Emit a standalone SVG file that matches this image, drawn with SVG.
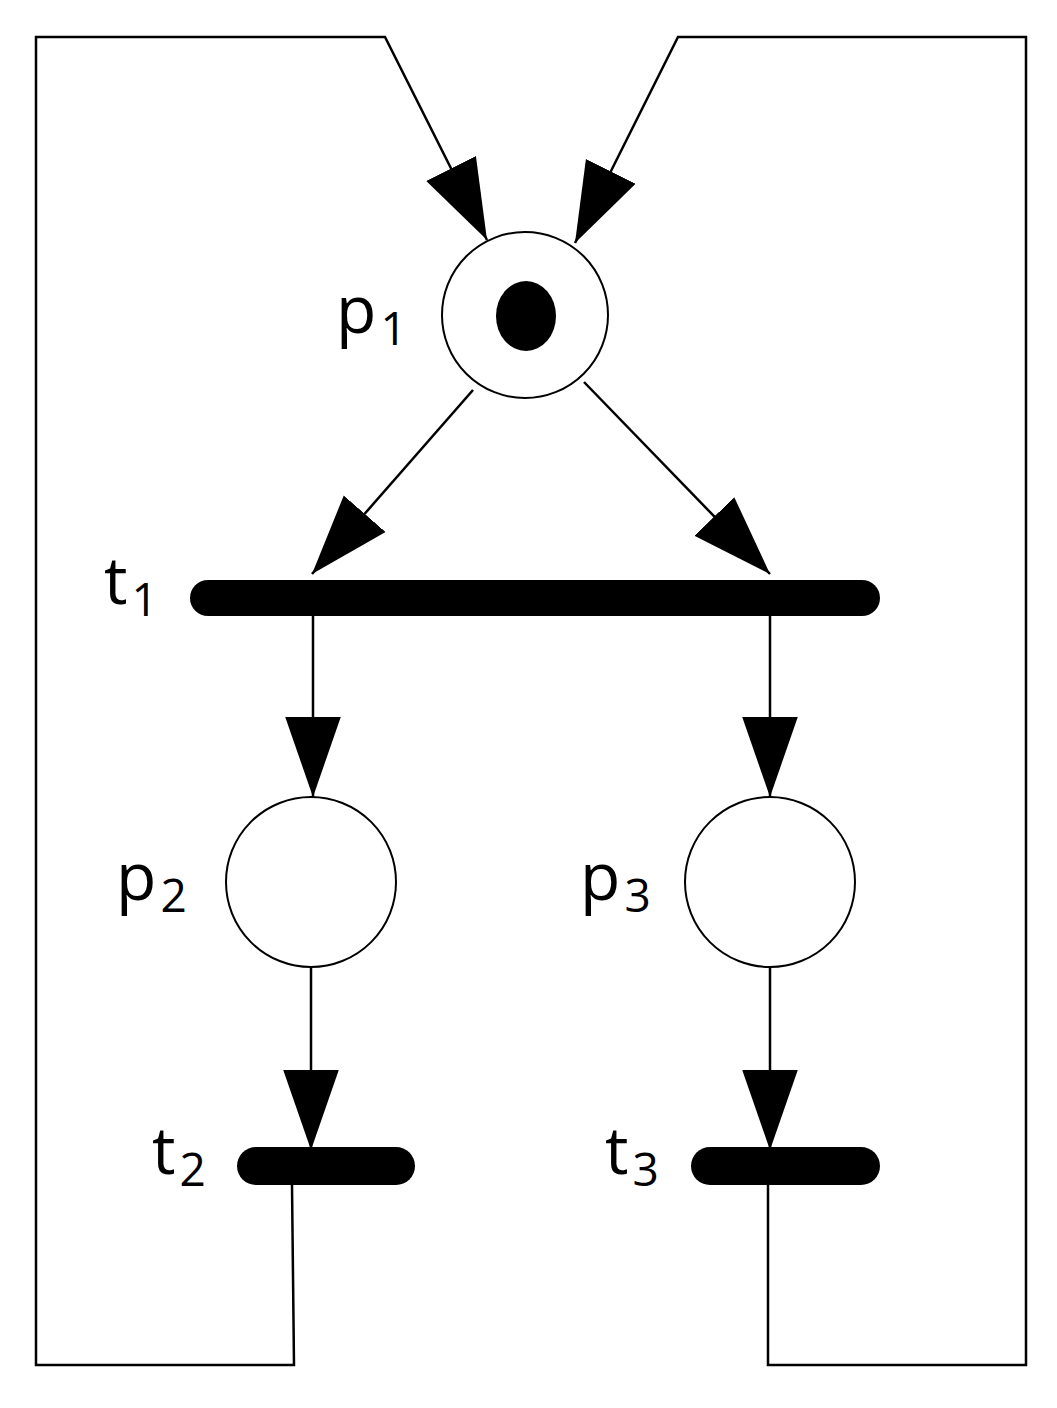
<svg xmlns="http://www.w3.org/2000/svg" width="1057" height="1408" viewBox="0 0 1057 1408">
<style>
.e{fill:none;stroke:#000;stroke-width:2.5}
.pl{fill:#fff;stroke:#000;stroke-width:2}
.bar{stroke:#000;stroke-linecap:round;fill:none}
.lb{font-family:"Open Sans","Liberation Sans",sans-serif;font-size:66px;fill:#000}
.sb{font-size:46px}
</style>
<defs>
<marker id="a" markerUnits="userSpaceOnUse" markerWidth="80" markerHeight="60" viewBox="0 0 72 50" refX="72" refY="25" orient="auto">
<path d="M0,0L72,25L0,50Z" fill="#000"/>
</marker>
</defs>
<rect width="1057" height="1408" fill="#fff"/>
<g id="connectors">
<polyline class="e" points="292,1185 294,1365 36,1365 36,37 385,37 487,240" marker-end="url(#a)"/>
<polyline class="e" points="768,1185 768,1365 1026,1365 1026,37 678,37 575,243" marker-end="url(#a)"/>
<line class="e" x1="473" y1="390" x2="312" y2="574" marker-end="url(#a)"/>
<line class="e" x1="584" y1="382" x2="770" y2="574" marker-end="url(#a)"/>
<line class="e" x1="313" y1="616" x2="313" y2="797" marker-end="url(#a)"/>
<line class="e" x1="770" y1="616" x2="770" y2="797" marker-end="url(#a)"/>
<line class="e" x1="311" y1="968" x2="311" y2="1150" marker-end="url(#a)"/>
<line class="e" x1="770" y1="968" x2="770" y2="1150" marker-end="url(#a)"/>
</g>
<g id="p1"><circle class="pl" cx="525" cy="315" r="83"/><ellipse cx="526" cy="316" rx="30" ry="35" fill="#000"/><text class="lb" x="336" y="333">p<tspan class="sb" dx="4" dy="12">1</tspan></text></g>
<g id="p2"><circle class="pl" cx="311" cy="882" r="85"/><text class="lb" x="116" y="900">p<tspan class="sb" dx="4" dy="12">2</tspan></text></g>
<g id="p3"><circle class="pl" cx="770" cy="882" r="85"/><text class="lb" x="580" y="900">p<tspan class="sb" dx="4" dy="12">3</tspan></text></g>
<g id="t1"><line class="bar" x1="208" y1="598" x2="862" y2="598" stroke-width="36"/><text class="lb" x="104" y="604">t<tspan class="sb" dx="4" dy="12">1</tspan></text></g>
<g id="t2"><line class="bar" x1="256" y1="1166" x2="396" y2="1166" stroke-width="38"/><text class="lb" x="152" y="1174">t<tspan class="sb" dx="4" dy="12">2</tspan></text></g>
<g id="t3"><line class="bar" x1="710" y1="1166" x2="861" y2="1166" stroke-width="38"/><text class="lb" x="605" y="1174">t<tspan class="sb" dx="4" dy="12">3</tspan></text></g>
</svg>
